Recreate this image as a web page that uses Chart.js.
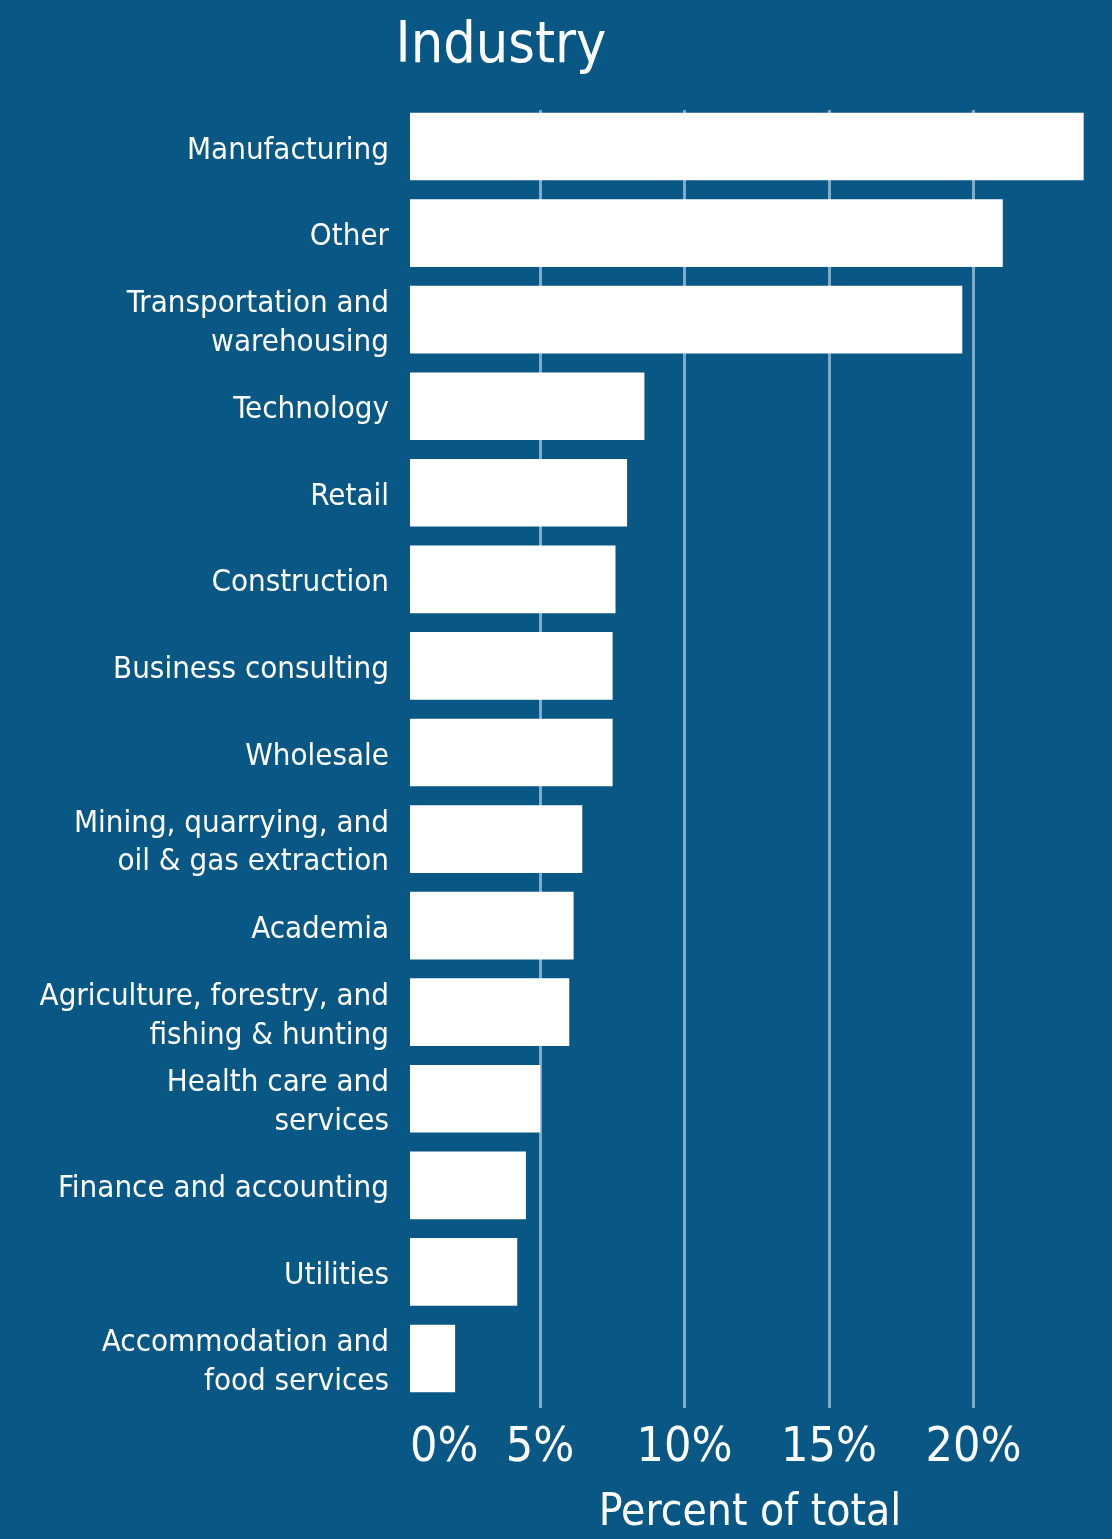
<!DOCTYPE html>
<html>
<head>
<meta charset="utf-8">
<title>Industry</title>
<script src="https://cdn.jsdelivr.net/npm/chart.js@4.4.1/dist/chart.umd.min.js"></script>
<style>
  html, body { margin: 0; padding: 0; background: #085785; }
  #wrap { width: 1112px; height: 1539px; position: relative; }
</style>
</head>
<body>
<div id="wrap"><canvas id="industryChart"></canvas></div>
<script>
// industries, top to bottom (multi-line labels as arrays)
const industries = [
    ['Manufacturing'],
    ['Other'],
    ['Transportation and', 'warehousing'],
    ['Technology'],
    ['Retail'],
    ['Construction'],
    ['Business consulting'],
    ['Wholesale'],
    ['Mining, quarrying, and', 'oil & gas extraction'],
    ['Academia'],
    ['Agriculture, forestry, and', 'fishing & hunting'],
    ['Health care and', 'services'],
    ['Finance and accounting'],
    ['Utilities'],
    ['Accommodation and', 'food services']
];

// percent of total, same order
const sharePct = [23.8, 21.0, 19.6, 8.6, 8.0, 7.6, 7.5, 7.5, 6.45, 6.15, 6.0, 5.0, 4.5, 4.2, 2.05];

const xTickValues = [0, 5, 10, 15, 20];
const chartTitle = 'Industry';
const xAxisTitle = 'Percent of total';

const FONT = '"DejaVu Sans Condensed", "Liberation Sans Narrow", "Liberation Sans", sans-serif';
const GRID = 'rgba(175, 205, 225, 0.7)';

// chart heading, left-aligned to the zero of the value axis
const headingPlugin = {
    id: 'heading',
    afterDraw(chart) {
        const ctx = chart.ctx;
        const x = chart.scales.x.getPixelForValue(0);
        ctx.save();
        ctx.font = '57px ' + FONT;
        ctx.fillStyle = '#ffffff';
        ctx.textAlign = 'left';
        ctx.textBaseline = 'alphabetic';
        ctx.fillText(chartTitle, x, 62);
        ctx.restore();
    }
};

const lastTick = xTickValues.length;

new Chart(document.getElementById('industryChart'), {
    type: 'bar',
    data: {
        datasets: [{
            data: sharePct.map((v, i) => ({ x: v, y: i })),
            backgroundColor: '#ffffff',
            borderWidth: 0,
            barThickness: 67
        }]
    },
    options: {
        indexAxis: 'y',
        responsive: true,
        maintainAspectRatio: false,
        animation: false,
        layout: { padding: { top: 110, right: 22, bottom: 0, left: 0 } },
        plugins: {
            legend: { display: false },
            tooltip: { enabled: false },
            title: { display: false }
        },
        scales: {
            x: {
                type: 'linear',
                position: 'bottom',
                bounds: 'data',
                min: 0.5,
                max: 24.03,
                beginAtZero: false,
                border: { display: false },
                grid: {
                    drawTicks: false,
                    lineWidth: 3,
                    color: ctx => (ctx.index === 0 || ctx.index === lastTick) ? 'rgba(0,0,0,0)' : GRID
                },
                afterBuildTicks(scale) {
                    const ticks = xTickValues.map(v => ({ value: Math.max(v, scale.min) }));
                    ticks.push({ value: scale.max });
                    scale.ticks = ticks;
                },
                afterFit(scale) {
                    scale.height = 131;
                },
                ticks: {
                    align: 'inner',
                    color: '#ffffff',
                    padding: 14,
                    font: { family: FONT, size: 48, lineHeight: 1.1 },
                    callback: (value, i) => i < xTickValues.length ? xTickValues[i] + '%' : ''
                },
                title: {
                    display: true,
                    text: xAxisTitle,
                    color: '#ffffff',
                    padding: 0,
                    font: { family: FONT, size: 44, lineHeight: 1.15 }
                }
            },
            y: {
                type: 'linear',
                reverse: true,
                offset: false,
                bounds: 'data',
                min: -0.4216,
                max: 14.572,
                border: { display: false },
                grid: { display: false, drawTicks: false },
                afterBuildTicks(scale) {
                    scale.ticks = industries.map((c, i) => ({ value: i }));
                },
                afterFit(scale) {
                    scale.width = 410;
                },
                ticks: {
                    color: '#ffffff',
                    padding: 21,
                    labelOffset: 4,
                    font: { family: FONT, size: 31, lineHeight: 1.25 },
                    callback: value => industries[value]
                }
            }
        }
    },
    plugins: [headingPlugin]
});
</script>
</body>
</html>
